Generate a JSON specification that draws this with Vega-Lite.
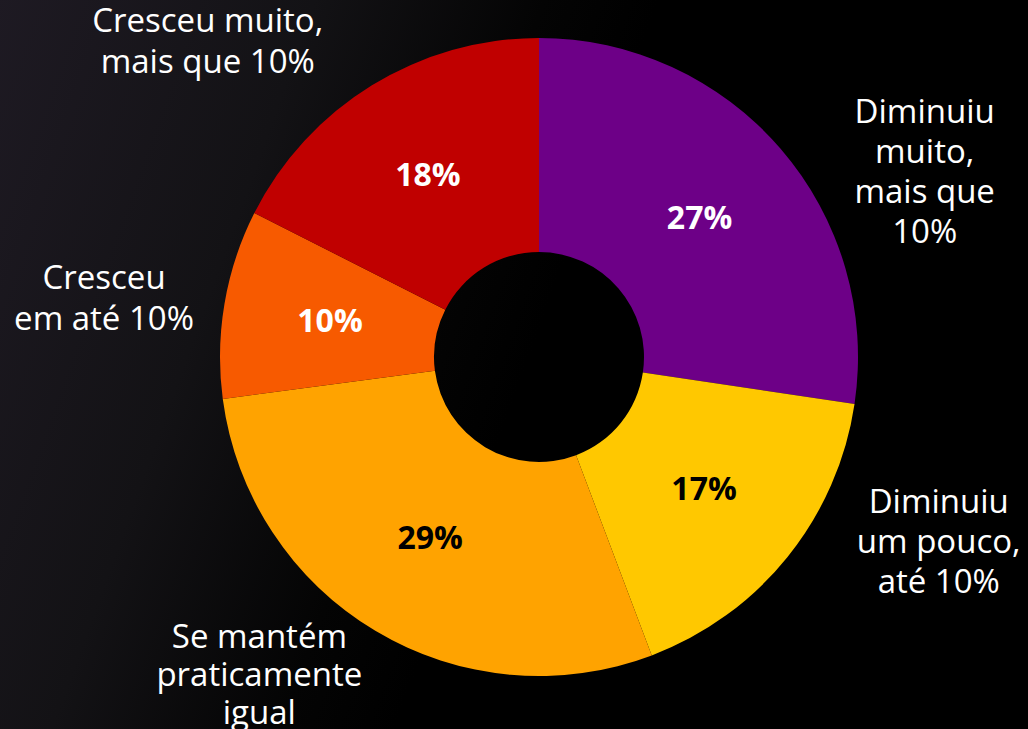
{
  "$schema": "https://vega.github.io/schema/vega-lite/v6.json",
  "width": 1078,
  "height": 744,
  "autosize": {"type": "none"},
  "padding": {"left": 0, "top": -15, "right": -50, "bottom": 0},
  "background": "#000000",
  "config": {"view": {"stroke": null}, "text": {"font": "Open Sans"}},
  "data": {
    "values": [
      {"categoria": "Diminuiu muito, mais que 10%", "rotulo": "Diminuiu\nmuito,\nmais que\n10%", "valor": 0.2735, "ordem": 1},
      {"categoria": "Diminuiu um pouco, até 10%", "rotulo": "Diminuiu\num pouco,\naté 10%", "valor": 0.169, "ordem": 2},
      {"categoria": "Se mantém praticamente igual", "rotulo": "Se mantém\npraticamente\nigual", "valor": 0.2865, "ordem": 3},
      {"categoria": "Cresceu em até 10%", "rotulo": "Cresceu\nem até 10%", "valor": 0.0955, "ordem": 4},
      {"categoria": "Cresceu muito, mais que 10%", "rotulo": "Cresceu muito,\nmais que 10%", "valor": 0.1755, "ordem": 5}
    ]
  },
  "transform": [
    {"stack": "valor", "groupby": [], "sort": [{"field": "ordem", "order": "ascending"}], "as": ["v0", "v1"]},
    {"calculate": "(datum.v0 + datum.v1) / 2", "as": "meio"}
  ],
  "layer": [
    {
      "data": {"values": [{}]},
      "mark": {
        "type": "rect",
        "fill": {
          "gradient": "linear", "x1": 0, "y1": 0, "x2": 1, "y2": 0.25,
          "stops": [
            {"offset": 0, "color": "#1e1a23"},
            {"offset": 0.28, "color": "#131215"},
            {"offset": 0.48, "color": "#040404"},
            {"offset": 0.58, "color": "#000000"},
            {"offset": 1, "color": "#000000"}
          ]
        }
      },
      "encoding": {}
    },
    {
      "mark": {"type": "arc", "outerRadius": 319, "innerRadius": 105},
      "encoding": {
        "theta": {"field": "v0", "type": "quantitative", "scale": {"domain": [0, 1]}},
        "theta2": {"field": "v1"},
        "color": {
          "field": "categoria",
          "type": "nominal",
          "legend": null,
          "scale": {
            "domain": ["Diminuiu muito, mais que 10%", "Diminuiu um pouco, até 10%", "Se mantém praticamente igual", "Cresceu em até 10%", "Cresceu muito, mais que 10%"],
            "range": ["#6d0087", "#ffc800", "#ffa300", "#f75a00", "#c00000"]
          }
        }
      }
    },
    {
      "mark": {"type": "text", "radius": 212, "fontSize": 32, "fontWeight": "bold", "align": "center", "baseline": "middle"},
      "encoding": {
        "theta": {"field": "meio", "type": "quantitative", "scale": {"domain": [0, 1]}},
        "text": {"field": "valor", "type": "quantitative", "format": ".0%"},
        "color": {
          "condition": {"test": "datum.ordem == 2 || datum.ordem == 3", "value": "#000000"},
          "value": "#ffffff"
        }
      }
    },
    {
      "transform": [{"filter": "datum.ordem == 1"}],
      "mark": {"type": "text", "radius": 430, "dx": 60, "dy": 37, "fontSize": 33, "lineHeight": 40, "lineBreak": "\n", "align": "center", "baseline": "middle", "color": "#ffffff"},
      "encoding": {"theta": {"field": "meio", "type": "quantitative", "scale": {"domain": [0, 1]}}, "text": {"field": "rotulo"}}
    },
    {
      "transform": [{"filter": "datum.ordem == 2"}],
      "mark": {"type": "text", "radius": 430, "dx": 65, "dy": -124, "fontSize": 33, "lineHeight": 40, "lineBreak": "\n", "align": "center", "baseline": "middle", "color": "#ffffff"},
      "encoding": {"theta": {"field": "meio", "type": "quantitative", "scale": {"domain": [0, 1]}}, "text": {"field": "rotulo"}}
    },
    {
      "transform": [{"filter": "datum.ordem == 3"}],
      "mark": {"type": "text", "radius": 430, "dx": -59, "dy": -88, "fontSize": 33, "lineHeight": 38, "lineBreak": "\n", "align": "center", "baseline": "middle", "color": "#ffffff"},
      "encoding": {"theta": {"field": "meio", "type": "quantitative", "scale": {"domain": [0, 1]}}, "text": {"field": "rotulo"}}
    },
    {
      "transform": [{"filter": "datum.ordem == 4"}],
      "mark": {"type": "text", "radius": 430, "dx": -11, "dy": -6, "fontSize": 33, "lineHeight": 41, "lineBreak": "\n", "align": "center", "baseline": "middle", "color": "#ffffff"},
      "encoding": {"theta": {"field": "meio", "type": "quantitative", "scale": {"domain": [0, 1]}}, "text": {"field": "rotulo"}}
    },
    {
      "transform": [{"filter": "datum.ordem == 5"}],
      "mark": {"type": "text", "radius": 430, "dx": -106, "dy": 31, "fontSize": 33, "lineHeight": 41, "lineBreak": "\n", "align": "center", "baseline": "middle", "color": "#ffffff"},
      "encoding": {"theta": {"field": "meio", "type": "quantitative", "scale": {"domain": [0, 1]}}, "text": {"field": "rotulo"}}
    }
  ]
}
